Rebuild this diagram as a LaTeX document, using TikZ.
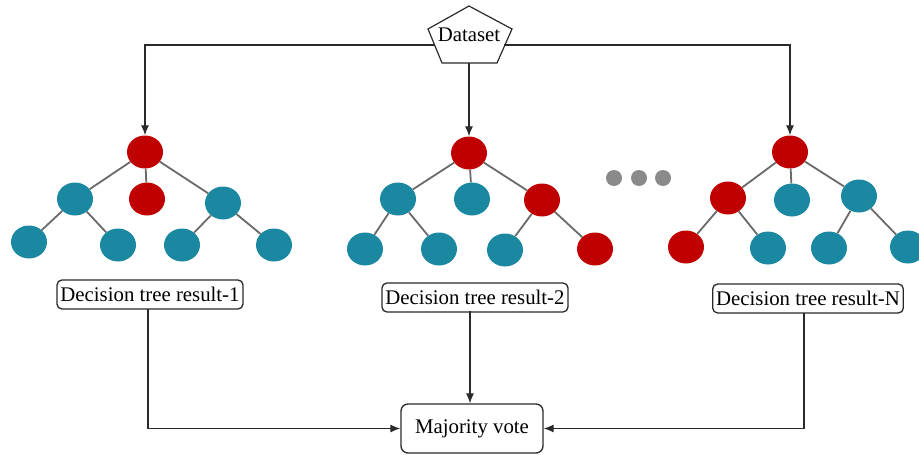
\documentclass[tikz,border=0pt]{standalone}
\usepackage{fontspec}
\setmainfont{Liberation Serif}
\usetikzlibrary{shapes.geometric,arrows.meta}
\definecolor{tred}{HTML}{C00000}
\definecolor{tteal}{HTML}{1B88A1}
\definecolor{tdot}{HTML}{8A8A8A}
\definecolor{tedge}{HTML}{6A6A6A}
\definecolor{tline}{HTML}{2A2A2A}
\begin{document}
\begin{tikzpicture}[x=1pt,y=-1pt,
  leafr/.style={ellipse,fill=tred,minimum width=36pt,minimum height=33pt,inner sep=0pt},
  leaft/.style={ellipse,fill=tteal,minimum width=36pt,minimum height=33pt,inner sep=0pt},
  dotg/.style={circle,fill=tdot,minimum size=16pt,inner sep=0pt},
  tedgeline/.style={draw=tedge,line width=1.8pt},
  arr/.style={draw=tline,line width=1.2pt,-{Latex[length=10pt,width=8pt]}},
  plain/.style={draw=tline,line width=1.2pt},
  resbox/.style={draw=tline,line width=1.3pt,rounded corners=5pt,fill=white,inner xsep=3.5pt,inner ysep=0pt,minimum height=29pt,font=\fontsize{20.8}{23}\selectfont},
  txt/.style={inner sep=0pt,font=\fontsize{20.8}{23}\selectfont}]
\useasboundingbox (0,0) rectangle (919,455);
\fill[white] (0,0) rectangle (919,455);

% Dataset pentagon
\coordinate (pT) at (469,6);
\coordinate (pR) at (512,29);
\coordinate (pBR) at (497,63);
\coordinate (pBL) at (442,63);
\coordinate (pL) at (428,29);
\coordinate (dsL) at (435,45);
\coordinate (dsR) at (504,45);
\coordinate (dsB) at (469,63);
\draw[plain,fill=white] (pT) -- (pR) -- (pBR) -- (pBL) -- (pL) -- cycle;
\node[txt] (ds) at (469,35) {Dataset};

% Tree 1
\node[leafr] (a0) at (145,152) {};
\node[leaft] (a1) at (75,199) {};
\node[leafr] (a2) at (147,199) {};
\node[leaft] (a3) at (223,203) {};
\node[leaft] (a4) at (29,242) {};
\node[leaft] (a5) at (118,245) {};
\node[leaft] (a6) at (182,245) {};
\node[leaft] (a7) at (274,245) {};

% Tree 2
\node[leafr] (b0) at (469,153) {};
\node[leaft] (b1) at (398,199) {};
\node[leaft] (b2) at (472,199) {};
\node[leafr] (b3) at (542,200) {};
\node[leaft] (b4) at (365,249) {};
\node[leaft] (b5) at (439,249) {};
\node[leaft] (b6) at (505,250) {};
\node[leafr] (b7) at (595,249) {};

% Tree 3
\node[leafr] (c0) at (790,152) {};
\node[leafr] (c1) at (728,198) {};
\node[leaft] (c2) at (792,200) {};
\node[leaft] (c3) at (859,196) {};
\node[leafr] (c4) at (686,247) {};
\node[leaft] (c5) at (768,248) {};
\node[leaft] (c6) at (829,248) {};
\node[leaft] (c7) at (908,247) {};

% edges (drawn between borders)
\foreach \t in {a,b,c}{
  \draw[tedgeline] (\t0) -- (\t1);
  \draw[tedgeline] (\t0) -- (\t2);
  \draw[tedgeline] (\t0) -- (\t3);
}
\draw[tedgeline] (a1) -- (a4); \draw[tedgeline] (a1) -- (a5);
\draw[tedgeline] (a3) -- (a6); \draw[tedgeline] (a3) -- (a7);
\draw[tedgeline] (b1) -- (b4); \draw[tedgeline] (b1) -- (b5);
\draw[tedgeline] (b3) -- (b6); \draw[tedgeline] (b3) -- (b7);
\draw[tedgeline] (c1) -- (c4); \draw[tedgeline] (c1) -- (c5);
\draw[tedgeline] (c3) -- (c6); \draw[tedgeline] (c3) -- (c7);

% dots
\node[dotg] (d1) at (614,178) {};
\node[dotg] (d2) at (639,178) {};
\node[dotg] (d3) at (663,178) {};

% arrows from dataset
\draw[arr] (dsL) -| (a0.north);
\draw[arr] (dsR) -| (c0.north);
\draw[arr] (dsB) -- (b0.north);

% result boxes
\node[resbox] (r1) at (150,294.5) {Decision tree result-1};
\node[resbox] (r2) at (475,297.5) {Decision tree result-2};
\node[resbox] (r3) at (808,298.5) {Decision tree result-N};

% majority vote
\node[resbox,minimum width=142pt,minimum height=49pt,rounded corners=7pt] (mv) at (472,428.5) {Majority vote};

\coordinate (r1d) at (148,309);
\coordinate (r2d) at (470,311);
\coordinate (r3d) at (804,313);
\draw[arr] (r1d) |- (mv.west);
\draw[arr] (r3d) |- (mv.east);
\draw[arr] (r2d) -- (r2d |- mv.north);
\end{tikzpicture}
\end{document}
